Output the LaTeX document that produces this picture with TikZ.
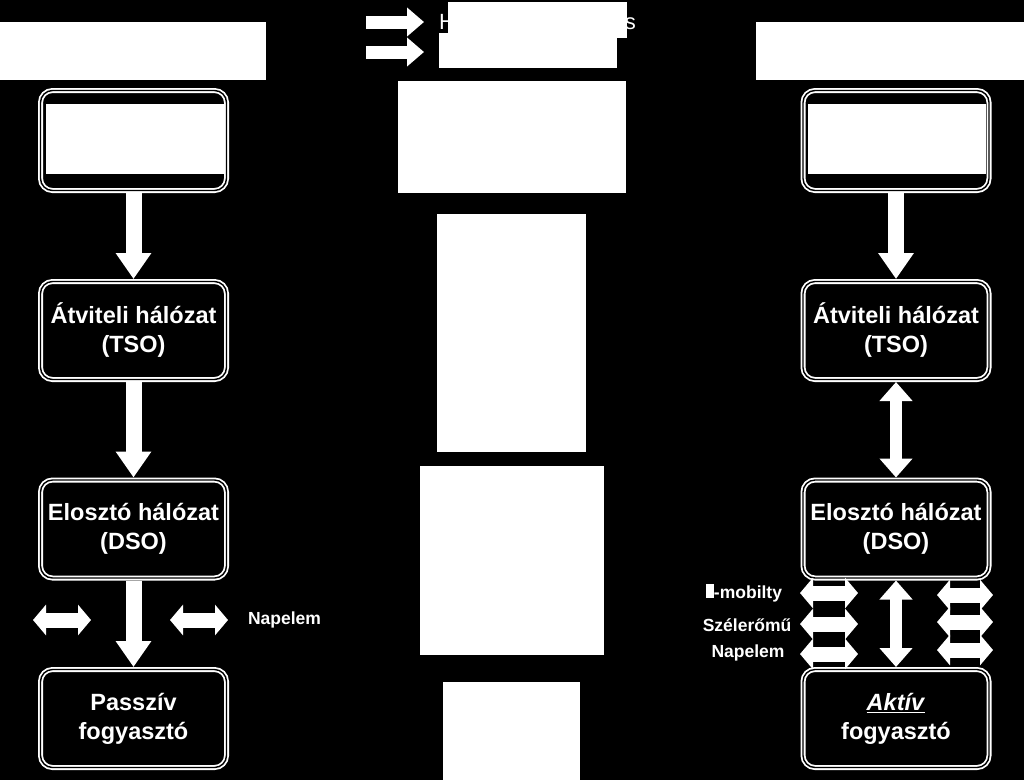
\documentclass[tikz,border=0pt]{standalone}
\usepackage{fontspec}
\setmainfont{Liberation Sans}
\usetikzlibrary{arrows.meta}
\begin{document}
\begin{tikzpicture}[x=1pt,y=-1pt,
  box/.style={draw=white, double=black, double distance=1.4pt, line width=1.8pt,
    rounded corners=12pt, minimum width=186pt, minimum height=98pt, inner sep=0pt,
    outer sep=2.5pt, text=white, font=\bfseries\fontsize{23.5}{29}\selectfont, align=center},
  wbox/.style={fill=white, draw=none},
  lbl/.style={text=white, font=\bfseries\fontsize{17.5}{20}\selectfont, inner sep=0pt},
  downarr/.style={draw=white, line width=16pt, -{Triangle[width=34pt,length=26pt]}},
  vdbl/.style={draw=white, line width=12pt, {Triangle[width=32pt,length=19pt]}-{Triangle[width=32pt,length=19pt]}},
  hdbl/.style={draw=white, line width=15pt, {Triangle[width=30pt,length=13pt]}-{Triangle[width=30pt,length=13pt]}},
  rarr/.style={draw=white, line width=13pt, -{Triangle[width=28pt,length=17pt]}}
]
\fill[black] (0,0) rectangle (1024,780);
\useasboundingbox (0,0) rectangle (1024,780);

% top middle partially covered text
\node[text=white, font=\fontsize{22}{24}\selectfont, anchor=base west, inner sep=0pt] (th) at (439,29) {H};
\node[text=white, font=\fontsize{22}{24}\selectfont, anchor=base east, inner sep=0pt] (ts) at (636,29) {s};

% white covering rectangles
\fill[wbox] (0,22) rectangle (266,80);
\fill[wbox] (756,22) rectangle (1024,80);
\fill[wbox] (448,2) rectangle (627,38);
\fill[wbox] (439,33) rectangle (617,68);
\fill[wbox] (398,81) rectangle (626,193);
\fill[wbox] (437,214) rectangle (586,452);
\fill[wbox] (420,466) rectangle (604,655);
\fill[wbox] (443,682) rectangle (580,780);

% top arrows
\coordinate (a1s) at (366,22); \coordinate (a1e) at (424,22);
\coordinate (a2s) at (366,52); \coordinate (a2e) at (424,52);
\draw[rarr] (a1s) -- (a1e);
\draw[rarr] (a2s) -- (a2e);

% left column
\node[box, minimum height=100pt] (l1) at (133.5,140.5) {};
\fill[wbox] (46,104) rectangle (224,174);
\node[box] (l2) at (133.5,330.5) {Átviteli hálózat\\(TSO)};
\node[box] (l3) at (133.5,529) {Elosztó hálózat\\(DSO)};
\node[box] (l4) at (133.5,718.5) {Passzív\\fogyasztó};
\draw[downarr] (l1.south) -- (l2.north);
\draw[downarr] (l2.south) -- (l3.north);
\draw[downarr] (l3.south) -- (l4.north);

\coordinate (lh1a) at (33,620); \coordinate (lh1b) at (91,620);
\coordinate (lh2a) at (170,620); \coordinate (lh2b) at (228,620);
\draw[hdbl] (lh1a) -- (lh1b);
\draw[hdbl] (lh2a) -- (lh2b);
\node[lbl] (lnap) at (284.5,620) {Napelem};

% right column
\node[box, minimum height=100pt] (r1) at (896,140.5) {};
\fill[wbox] (808,104) rectangle (986,174);
\node[box] (r2) at (896,330.5) {Átviteli hálózat\\(TSO)};
\node[box] (r3) at (896,529) {Elosztó hálózat\\(DSO)};
\node[box] (r4) at (896,718.5) {\underline{\textit{Aktív}}\\fogyasztó};
\draw[downarr] (r1.south) -- (r2.north);
\draw[vdbl] (r2.south) -- (r3.north);
\draw[vdbl] (r3.south) -- (r4.north);

\foreach \n/\y in {1/593,2/624,3/654}{
  \coordinate (rla\n) at (800,\y); \coordinate (rlb\n) at (858,\y);
  \draw[hdbl] (rla\n) -- (rlb\n);
}
\foreach \n/\y in {1/595,2/622,3/650}{
  \coordinate (rra\n) at (937,\y); \coordinate (rrb\n) at (993,\y);
  \draw[hdbl] (rra\n) -- (rrb\n);
}
\node[lbl] (emob) at (744,593) {\rule{8pt}{14pt}-mobilty};
\node[lbl] (szel) at (747,625) {Szélerőmű};
\node[lbl] (rnap) at (748,653) {Napelem};
\end{tikzpicture}
\end{document}
